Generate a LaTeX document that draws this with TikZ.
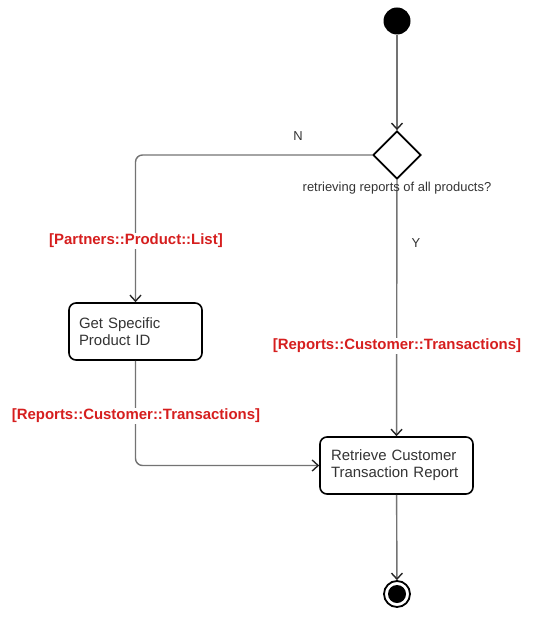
\documentclass[tikz,border=0pt]{standalone}
\usepackage{fontspec}
\setmainfont{Liberation Sans}
\usetikzlibrary{arrows.meta,positioning,shapes.geometric}
\definecolor{umlred}{RGB}{214,30,30}
\definecolor{umlline}{RGB}{115,115,115}
\definecolor{umltext}{RGB}{51,51,51}

\begin{document}
\begin{tikzpicture}[x=1bp,y=-1bp,
    flow/.style={-{Straight Barb[length=6bp,width=11bp,line width=1.4bp,color=black!85]}, umlline, line width=1.4bp},
    action/.style={draw=black, line width=1.6bp, rounded corners=7bp, fill=white, minimum height=57bp, align=left, text=umltext, font=\fontsize{15}{17}\selectfont},
    guard/.style={text=umlred, font=\bfseries\fontsize{15}{17}\selectfont, fill=white, inner sep=1bp},
    note/.style={text=umltext, font=\fontsize{13}{15}\selectfont, inner sep=0pt}]
    \useasboundingbox (0,0) rectangle (548,621);
    \node[circle, fill=black, minimum size=27bp, inner sep=0pt] (start) at (397,21) {};
    \node[diamond, draw=black, line width=1.8bp, fill=white, minimum width=48bp, minimum height=48bp, inner sep=0pt] (decide) at (397,155) {};
    \node[action, inner xsep=10bp, minimum width=133bp, text width=113bp] (getid) at (135.5,331.5) {Get Specific\\Product ID};
    \node[action, inner xsep=11bp, minimum width=153bp, text width=131bp] (retrieve) at (396.5,465.5) {Retrieve Customer\\Transaction Report};
    \node[circle, draw=black, line width=1.8bp, minimum size=26bp, inner sep=0pt] (stop) at (397,594) {};
    \node[circle, fill=black, minimum size=18bp, inner sep=0pt] (stopdot) at (stop) {};
    \draw[flow] (start) -- (decide);
    \draw[flow, rounded corners=7bp] (decide.west) -| (getid.north);
    \draw[flow] (decide) -- (retrieve);
    \draw[flow, rounded corners=7bp] (getid.south) |- (retrieve.west);
    \draw[flow] (retrieve) -- (stop);
    % labels
    \node[note] (nolabel) at (298,136) {N};
    \node[note] (yeslabel) at (416,243) {Y};
    \node[note] (question) at (397,188) {retrieving reports of all products?};
    \node[guard] (guardlist) at (136,241) {[Partners::Product::List]};
    \node[guard] (guardleft) at (136,416) {[Reports::Customer::Transactions]};
    \node[guard] (guardright) at (397,346) {[Reports::Customer::Transactions]};
  \end{tikzpicture}
\end{document}
